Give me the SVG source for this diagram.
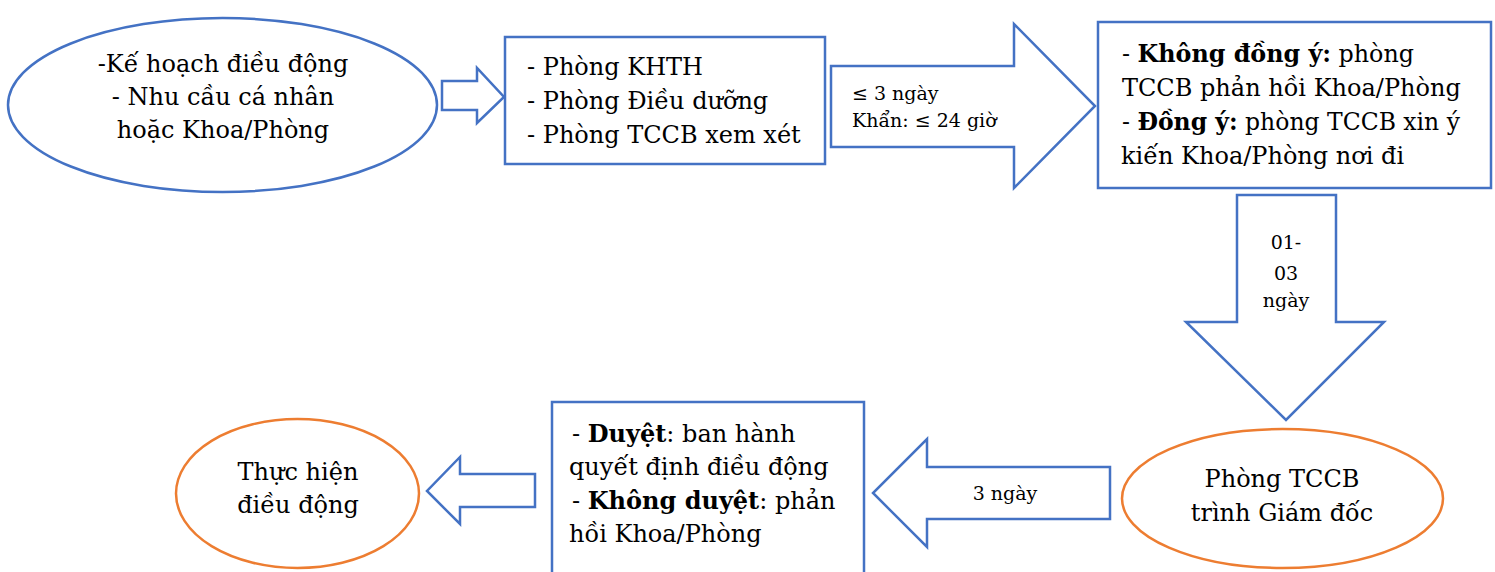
<svg xmlns="http://www.w3.org/2000/svg" width="1495" height="572" viewBox="0 0 1495 572">
<style>
.b{fill:#fff;stroke:#4472C4;stroke-width:2.5}
.o{fill:#fff;stroke:#ED7D31;stroke-width:2.5}
text{font-family:"DejaVu Serif","Liberation Serif",serif;fill:#000}
.t{font-size:24px}
.s{font-size:19px}
.m{text-anchor:middle}
.bd{font-weight:bold}
</style>
<rect width="1495" height="572" fill="#fff"/>
<g id="connectors">
<polygon class="b" points="442,81 477,81 477,68 504,97 477,123 477,110 442,110"/>
<polygon class="b" points="831,66 1014,66 1014,24 1095,106 1014,188 1014,147 831,147"/>
<polygon class="b" points="1237,195 1336,195 1336,322 1384,322 1286,420 1186,322 1237,322"/>
<polygon class="b" points="1110,467 927,467 927,439 873,493 927,547 927,519 1110,519"/>
<polygon class="b" points="535,474 460,474 460,457 427,491 460,524 460,507 535,507"/>
<text class="s" x="852" y="100">≤ 3 ngày</text>
<text class="s" x="852" y="127">Khẩn: ≤ 24 giờ</text>
<text class="s m" x="1286" y="249">01-</text>
<text class="s m" x="1286" y="280">03</text>
<text class="s m" x="1286" y="307">ngày</text>
<text class="s m" x="1005" y="500">3 ngày</text>
</g>
<g id="n1">
<ellipse class="b" cx="222.5" cy="105" rx="214.5" ry="87"/>
<text class="t m" x="223" y="72">-Kế hoạch điều động</text>
<text class="t m" x="223" y="105">- Nhu cầu cá nhân</text>
<text class="t m" x="223" y="138">hoặc Khoa/Phòng</text>
</g>
<g id="n2">
<rect class="b" x="505" y="37" width="320" height="127"/>
<text class="t" x="527" y="75">- Phòng KHTH</text>
<text class="t" x="527" y="109">- Phòng Điều dưỡng</text>
<text class="t" x="527" y="143">- Phòng TCCB xem xét</text>
</g>
<g id="n3">
<rect class="b" x="1098" y="22" width="393" height="166"/>
<text class="t" x="1122" y="62" textLength="292" lengthAdjust="spacingAndGlyphs">- <tspan class="bd">Không đồng ý:</tspan> phòng</text>
<text class="t" x="1122" y="96">TCCB phản hồi Khoa/Phòng</text>
<text class="t" x="1122" y="130" textLength="338" lengthAdjust="spacingAndGlyphs">- <tspan class="bd">Đồng ý:</tspan> phòng TCCB xin ý</text>
<text class="t" x="1121" y="164">kiến Khoa/Phòng nơi đi</text>
</g>
<g id="n4">
<ellipse class="o" cx="1282.5" cy="498.5" rx="160.5" ry="69.5"/>
<text class="t m" x="1282" y="487">Phòng TCCB</text>
<text class="t m" x="1282" y="521">trình Giám đốc</text>
</g>
<g id="n5">
<rect class="b" x="552" y="402" width="312" height="190"/>
<text class="t" x="572" y="442">- <tspan class="bd">Duyệt</tspan>: ban hành</text>
<text class="t" x="569" y="475">quyết định điều động</text>
<text class="t" x="572" y="509">- <tspan class="bd">Không duyệt</tspan>: phản</text>
<text class="t" x="569" y="542">hồi Khoa/Phòng</text>
</g>
<g id="n6">
<ellipse class="o" cx="297.5" cy="493.5" rx="121.5" ry="74.5"/>
<text class="t m" x="298" y="480">Thực hiện</text>
<text class="t m" x="298" y="513">điều động</text>
</g>
</svg>
